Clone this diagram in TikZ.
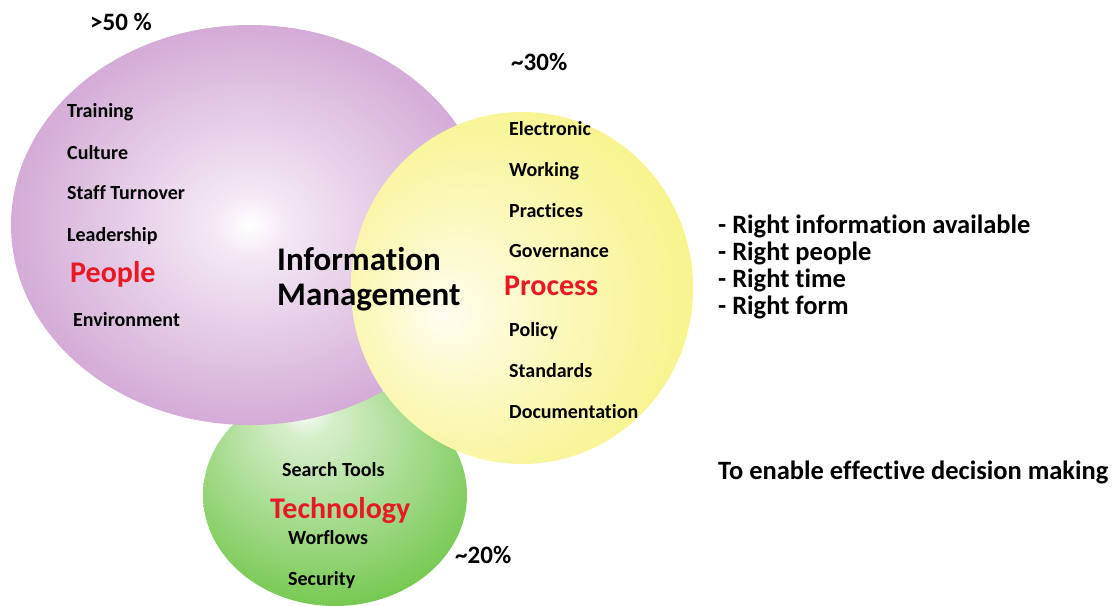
\documentclass[tikz,border=0pt]{standalone}
\usepackage{fontspec}
\setmainfont{Carlito}[Ligatures=NoCommon]
\usetikzlibrary{shapes.geometric, positioning}

\definecolor{peoplepurple}{RGB}{196,140,200}
\definecolor{processyellow}{RGB}{246,240,104}
\definecolor{techgreen}{RGB}{92,190,48}
\definecolor{labelred}{RGB}{232,24,36}

\pgfdeclareradialshading{peopleshade}{\pgfpoint{0bp}{0bp}}{color(0bp)=(white);
    color(4bp)=(white!80!peoplepurple); color(36bp)=(peoplepurple); color(50bp)=(peoplepurple)}
\pgfdeclareradialshading{processshade}{\pgfpoint{-12bp}{-4bp}}{color(0bp)=(white!90!processyellow);
    color(12bp)=(white!60!processyellow); color(42bp)=(processyellow); color(50bp)=(processyellow)}
\pgfdeclareradialshading{techshade}{\pgfpoint{-6bp}{20bp}}{color(0bp)=(white);
    color(5bp)=(white!75!techgreen); color(40bp)=(techgreen); color(50bp)=(techgreen)}

\begin{document}
\begin{tikzpicture}[x=1pt, y=-1pt,
        blob/.style={ellipse, inner sep=0pt},
        item/.style={font=\fontsize{20}{24}\selectfont\bfseries, text height=0.7em,
                text depth=0pt, inner sep=0pt, anchor=west, yshift=-4pt},
        area/.style={font=\fontsize{30}{34}\selectfont\bfseries, text=labelred,
                text height=0.7em, text depth=0pt, inner sep=0pt, anchor=west,
                yshift=-7pt},
        title/.style={font=\fontsize{33}{35}\selectfont\bfseries, align=left,
                inner sep=0pt, anchor=west},
        share/.style={font=\fontsize{25}{28}\selectfont\bfseries, inner sep=0pt,
                anchor=west},
        note/.style={font=\fontsize{26.5}{27}\selectfont\bfseries, align=left,
                inner sep=0pt, anchor=west},
    ]
    \useasboundingbox[fill=white] (0,0) rectangle (1116,605);

    % the three areas
    \node[blob, minimum width=264pt, minimum height=222pt, shading=techshade] (tech) at (335,495) {};
    \node[blob, minimum width=478pt, minimum height=400pt, shading=peopleshade] (people) at (250,225) {};
    \node[blob, minimum width=342pt, minimum height=352pt, shading=processshade] (process) at (522,288) {};

    % people
    \node[share] (people_share) at (90,22) {>50 \%};
    \node[item] (training) at (67,110) {Training};
    \node[item] (culture) at (67,152) {Culture};
    \node[item] (turnover) at (67,192) {Staff Turnover};
    \node[item] (leadership) at (67,234) {Leadership};
    \node[area] (people_label) at (70,272) {People};
    \node[item] (environment) at (73,319) {Environment};

    \node[title] (info_mgmt) at (277,279) {Information\\Management};

    % process
    \node[share] (process_share) at (511,62) {\textasciitilde30\%};
    \node[item] (electronic) at (509,128) {Electronic};
    \node[item] (working) at (509,169) {Working};
    \node[item] (practices) at (509,210) {Practices};
    \node[item] (governance) at (509,250) {Governance};
    \node[area] (process_label) at (504,285) {Process};
    \node[item] (policy) at (509,329) {Policy};
    \node[item] (standards) at (509,370) {Standards};
    \node[item] (documentation) at (509,411) {Documentation};

    % technology
    \node[item] (search) at (282,469) {Search Tools};
    \node[area] (tech_label) at (270,508) {Technology};
    \node[item] (workflows) at (288,537) {Worflows};
    \node[item] (security) at (288,578) {Security};
    \node[share] (tech_share) at (455,555) {\textasciitilde20\%};

    % goals
    \node[note] (goals) at (718,267) {- Right information available\\- Right people\\- Right time\\- Right form};
    \node[note] (aim) at (718,472) {To enable effective decision making};
\end{tikzpicture}
\end{document}
